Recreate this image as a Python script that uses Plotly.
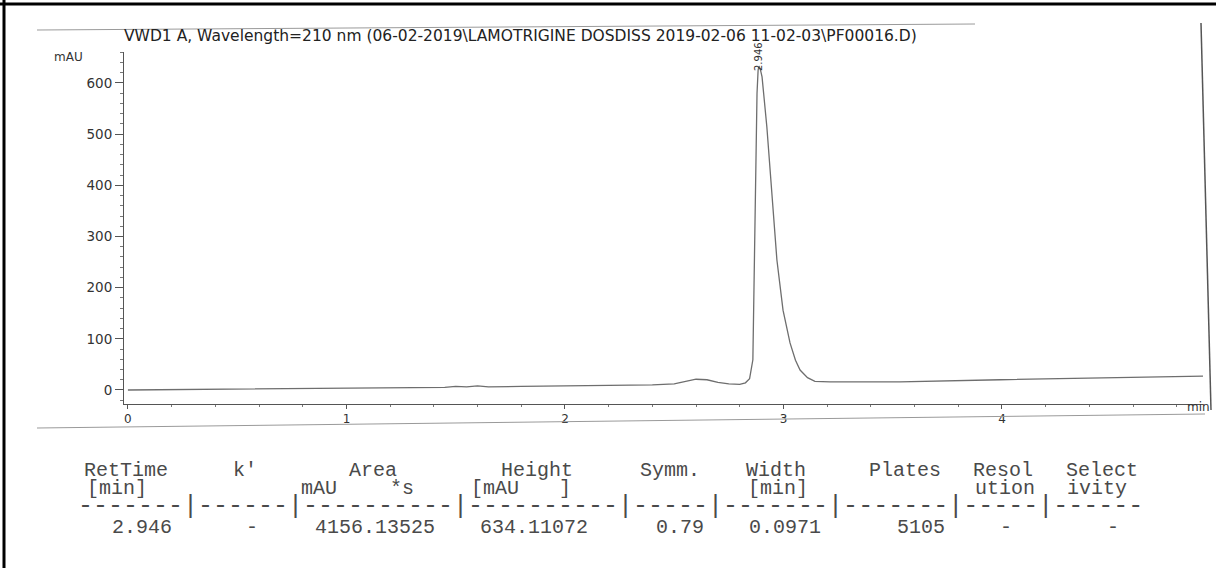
import plotly.graph_objects as go

# ---------------- data ----------------
time_min = [0.0, 0.3, 0.6, 0.9, 1.2, 1.45, 1.5, 1.55, 1.6, 1.65, 1.8, 2.0, 2.2, 2.4,
            2.5, 2.55, 2.6, 2.65, 2.7, 2.75, 2.8, 2.826, 2.845, 2.860, 2.865, 2.870,
            2.875, 2.879, 2.884, 2.888, 2.895, 2.902, 2.924, 2.947, 2.970, 2.998,
            3.030, 3.055, 3.076, 3.110, 3.144, 3.213, 3.533, 3.991, 4.449, 4.92]
signal_mau = [0, 1, 2, 3, 4, 5, 7, 6, 8, 6, 7, 8, 9, 10,
              12, 16, 21, 20, 15, 12, 11, 14, 22, 59, 200, 371,
              500, 580, 625, 633, 625, 612, 514, 385, 254, 156,
              92, 58, 39, 24, 17, 16, 16, 20, 23, 27]

x_tick_values = [0, 1, 2, 3, 4]
x_tick_labels = ["0", "1", "2", "3", "4"]
y_tick_values = [0, 100, 200, 300, 400, 500, 600]
y_tick_labels = ["0", "100", "200", "300", "400", "500", "600"]

title_text = "VWD1 A, Wavelength=210 nm (06-02-2019\\LAMOTRIGINE DOSDISS 2019-02-06 11-02-03\\PF00016.D)"
y_unit = "mAU"
x_unit = "min"
peak_label = "2.946"

header_row1 = ["RetTime", "k'", "Area", "Height", "Symm.", "Width", "Plates", "Resol", "Select"]
header_row2 = ["[min]", "mAU", "*s", "[mAU", "]", "[min]", "ution", "ivity"]
separator_row = "-------|------|----------|----------|-----|-------|-------|-----|------"
value_row = ["2.946", "-", "4156.13525", "634.11072", "0.79", "0.0971", "5105", "-", "-"]

# ---------------- layout helpers (pixel placement) ----------------
W, H = 1216, 568


def px(x):
    return x / W


def py(y):
    return 1 - y / H


row1_x = [126, 245, 373, 537, 670, 776, 905, 1003, 1102]
row2_x = [117, 319, 402, 495, 565, 778, 1005, 1097]
row4_x = [142, 252, 375, 534, 680, 785, 921, 1006, 1113]
row_y = [470, 488, 506, 527]

ink = "#4a4a4a"
mono = "Liberation Mono, Courier New, monospace"
sans = "DejaVu Sans, Arial, sans-serif"

fig = go.Figure()
fig.add_trace(go.Scatter(x=time_min, y=signal_mau, mode="lines",
                         line=dict(color="#6e6e6e", width=1.3), hoverinfo="skip",
                         showlegend=False))

annotations = []
annotations.append(dict(x=px(122), y=py(36), xref="paper", yref="paper", text=title_text,
                        showarrow=False, xanchor="left", yanchor="middle",
                        font=dict(family=sans, size=15.5, color="#222")))
annotations.append(dict(x=px(68), y=py(57), xref="paper", yref="paper", text=y_unit,
                        showarrow=False, xanchor="center", yanchor="middle",
                        font=dict(family=sans, size=12, color="#333")))
annotations.append(dict(x=px(1212), y=py(407), xref="paper", yref="paper", text=x_unit,
                        showarrow=False, xanchor="right", yanchor="middle",
                        font=dict(family=sans, size=12, color="#333")))
annotations.append(dict(x=px(758), y=py(57), xref="paper", yref="paper", text=peak_label,
                        textangle=-90, showarrow=False, xanchor="center", yanchor="middle",
                        font=dict(family=sans, size=10, color="#333")))

for txt, cx in zip(header_row1, row1_x):
    annotations.append(dict(x=px(cx), y=py(row_y[0]), xref="paper", yref="paper", text=txt,
                            showarrow=False, xanchor="center", yanchor="middle",
                            font=dict(family=mono, size=20, color=ink)))
for txt, cx in zip(header_row2, row2_x):
    annotations.append(dict(x=px(cx), y=py(row_y[1]), xref="paper", yref="paper", text=txt,
                            showarrow=False, xanchor="center", yanchor="middle",
                            font=dict(family=mono, size=20, color=ink)))
annotations.append(dict(x=px(76), y=py(row_y[2]), xref="paper", yref="paper", text=separator_row,
                        showarrow=False, xanchor="left", yanchor="middle",
                        font=dict(family=mono, size=25, color=ink)))
for txt, cx in zip(value_row, row4_x):
    annotations.append(dict(x=px(cx), y=py(row_y[3]), xref="paper", yref="paper", text=txt,
                            showarrow=False, xanchor="center", yanchor="middle",
                            font=dict(family=mono, size=20, color=ink)))

shapes = [
    dict(type="line", xref="paper", yref="paper", x0=0, x1=1, y0=py(4), y1=py(4),
         line=dict(color="black", width=3)),
    dict(type="line", xref="paper", yref="paper", x0=px(4), x1=px(4), y0=0, y1=1,
         line=dict(color="black", width=3)),
    dict(type="line", xref="paper", yref="paper", x0=px(37), x1=px(975), y0=py(30), y1=py(24),
         line=dict(color="#9a9a9a", width=1)),
    dict(type="line", xref="paper", yref="paper", x0=px(37), x1=px(1205), y0=py(428), y1=py(414),
         line=dict(color="#9a9a9a", width=1)),
    dict(type="line", xref="paper", yref="paper", x0=px(1201), x1=px(1211), y0=py(23), y1=py(410),
         line=dict(color="#555", width=1.5)),
]

fig.update_layout(
    width=W, height=H, margin=dict(l=0, r=0, t=0, b=0),
    paper_bgcolor="white", plot_bgcolor="white",
    showlegend=False, annotations=annotations, shapes=shapes,
    xaxis=dict(domain=[px(124), px(1203)], range=[-0.018, 4.92],
               showline=True, linecolor="#555", linewidth=1, showgrid=False, zeroline=False,
               tickvals=x_tick_values, ticktext=x_tick_labels, ticks="outside", ticklen=4,
               tickcolor="#555",
               minor=dict(dtick=0.2, ticks="outside", ticklen=2, tickcolor="#777"),
               tickfont=dict(family=sans, size=12, color="#333")),
    yaxis=dict(domain=[py(404), py(52)], range=[-27.4, 660.5],
               showline=True, linecolor="#555", linewidth=1, showgrid=False, zeroline=False,
               tickvals=y_tick_values, ticktext=y_tick_labels, ticks="outside", ticklen=8,
               tickcolor="#555",
               minor=dict(dtick=20, ticks="outside", ticklen=3, tickcolor="#777"),
               tickfont=dict(family=sans, size=13.5, color="#333")),
)

fig.write_html("out.html", config={"displayModeBar": False},
               post_script="document.body.style.margin='0';document.body.style.overflow='hidden';")
